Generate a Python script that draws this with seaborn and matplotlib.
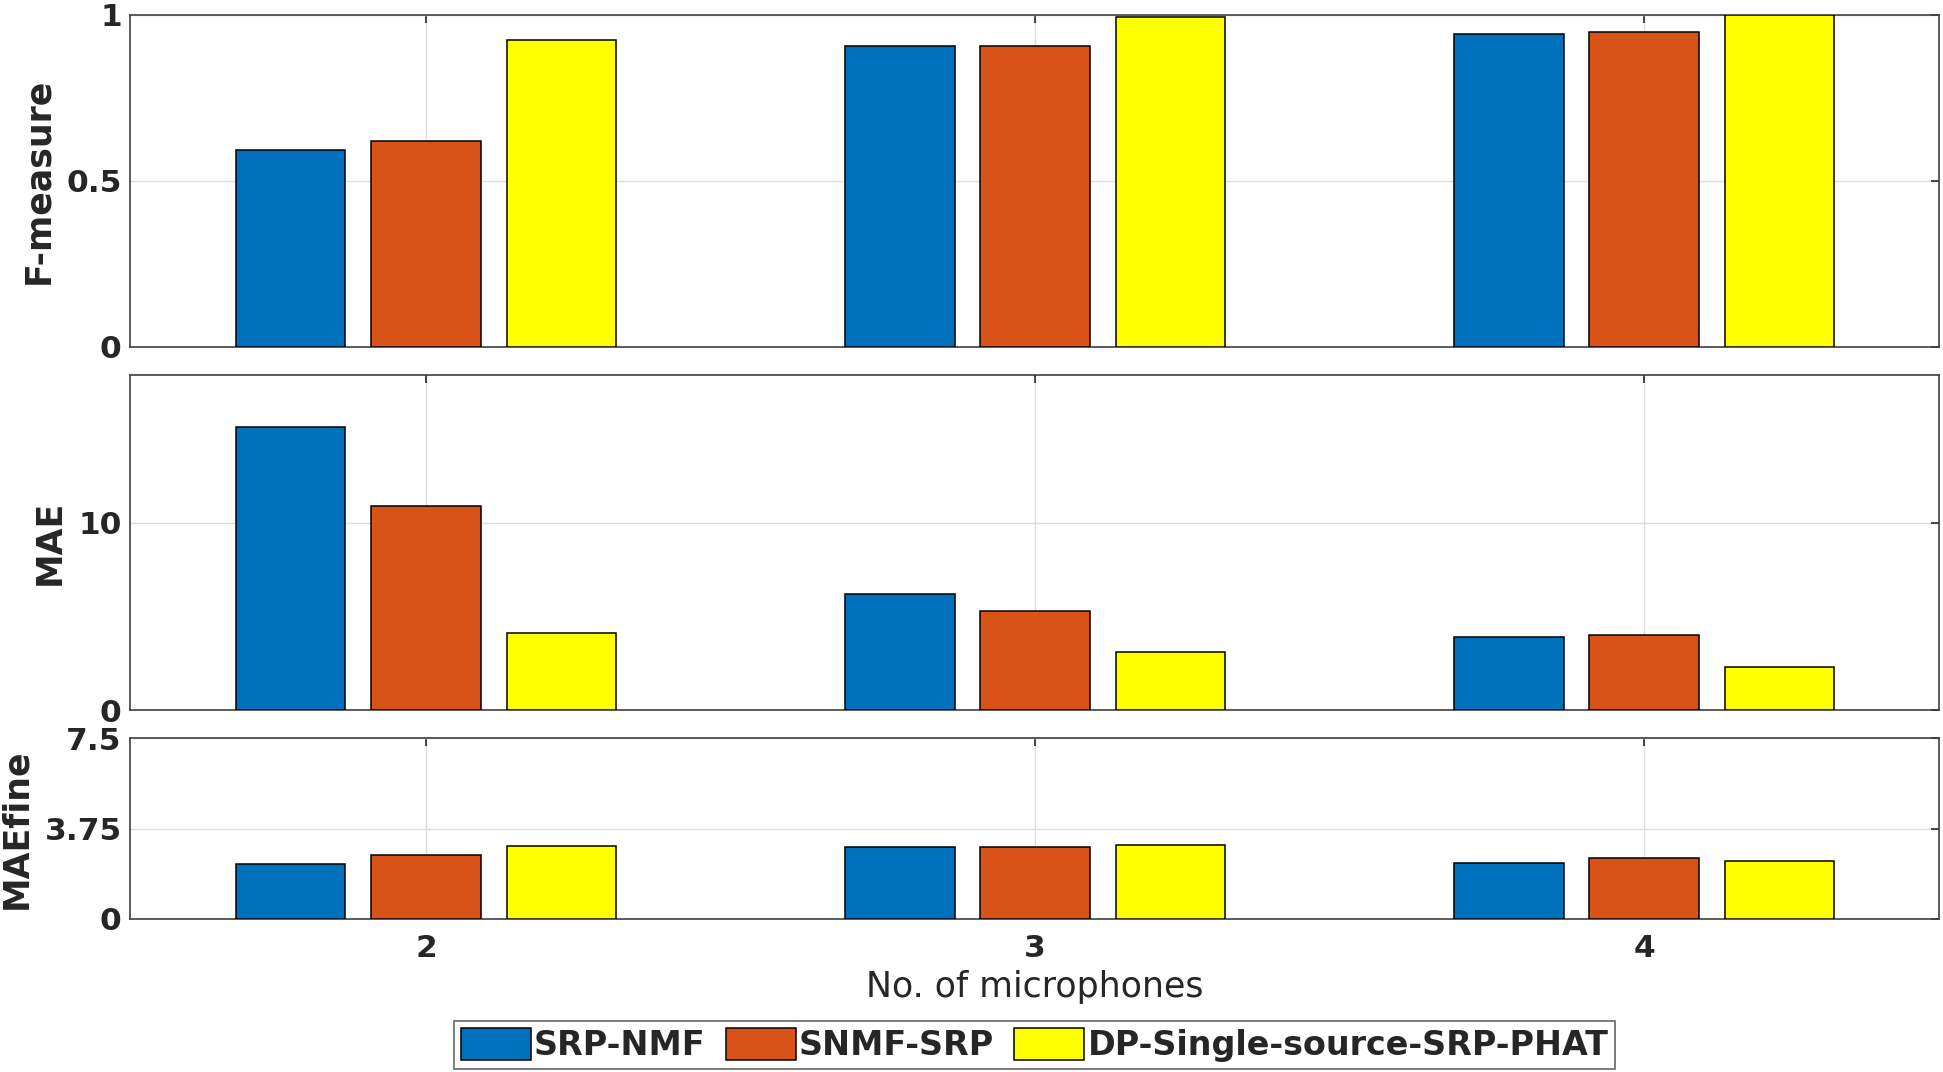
import matplotlib
matplotlib.use("Agg")
import matplotlib.pyplot as plt
import seaborn as sns
import pandas as pd

sns.set_theme(style="white")
plt.rcParams['font.family'] = ['DejaVu Sans']

mics = ["2", "3", "4"]
methods = ["SRP-NMF", "SNMF-SRP", "DP-Single-source-SRP-PHAT"]
colors = ["#0072BD", "#D95319", "#FFFF00"]

fmeasure_srpnmf = [0.593, 0.907, 0.944]
fmeasure_snmf = [0.619, 0.907, 0.948]
fmeasure_dp = [0.925, 0.993, 1.0]

mae_srpnmf = [15.1, 6.2, 3.9]
mae_snmf = [10.9, 5.3, 4.0]
mae_dp = [4.1, 3.1, 2.3]

maefine_srpnmf = [2.26, 2.98, 2.31]
maefine_snmf = [2.67, 2.98, 2.52]
maefine_dp = [3.03, 3.08, 2.41]


def long_df(a, b, c):
    rows = []
    for vals, m in zip([a, b, c], methods):
        for mic, v in zip(mics, vals):
            rows.append({"mics": mic, "method": m, "value": v})
    return pd.DataFrame(rows)


panels = [
    (long_df(fmeasure_srpnmf, fmeasure_snmf, fmeasure_dp), "F-measure", (0, 1), [0, 0.5, 1], ["0", "0.5", "1"]),
    (long_df(mae_srpnmf, mae_snmf, mae_dp), "MAE", (0, 17.9), [0, 10], ["0", "10"]),
    (long_df(maefine_srpnmf, maefine_snmf, maefine_dp), "MAEfine", (0, 7.5), [0, 3.75, 7.5], ["0", "3.75", "7.5"]),
]

W, H = 1943, 1072
fig = plt.figure(figsize=(W / 100, H / 100), dpi=100)
left = 130 / W
width = (1939 - 130) / W
boxes = [(15, 347), (375, 710), (738, 919)]

axes = []
for (df, ylabel, ylim, yt, ytl), (t, b) in zip(panels, boxes):
    ax = fig.add_axes([left, 1 - b / H, width, (b - t) / H])
    sns.barplot(data=df, x="mics", y="value", hue="method", palette=colors,
                width=0.667, gap=0.19, edgecolor="black", linewidth=1.1,
                saturation=1, ax=ax, legend=False, zorder=3)
    ax.set_xlim(-0.486, 2.484)
    ax.set_ylim(*ylim)
    ax.set_yticks(yt)
    ax.set_yticklabels(ytl, fontsize=22.5, fontweight="bold", color="#262626")
    ax.set_xticks([0, 1, 2])
    ax.set_ylabel(ylabel, fontsize=25, fontweight="bold", color="#262626", labelpad=8)
    ax.set_xlabel("")
    ax.grid(True, color="#dddddd", linewidth=1.0, zorder=0)
    ax.set_axisbelow(True)
    ax.tick_params(direction="in", length=6, width=1.2, top=True, right=True,
                   colors="#262626", pad=6)
    for s in ax.spines.values():
        s.set_visible(True)
        s.set_color("#404040")
        s.set_linewidth(1.2)
    axes.append(ax)

for ax in axes[:2]:
    ax.set_xticklabels([])
axes[2].set_xticklabels(mics, fontsize=22.5, fontweight="bold", color="#262626")
axes[2].tick_params(axis="x", pad=11)
axes[2].set_xlabel("No. of microphones", fontsize=25, color="#262626", labelpad=5)

handles = [plt.Rectangle((0, 0), 1, 1, facecolor=c, edgecolor="black", linewidth=1.1) for c in colors]
leg = fig.legend(handles, methods, loc="center", bbox_to_anchor=((130 + 1939) / 2 / W, 1 - 1045 / H),
                 ncol=3, frameon=True, fancybox=False, edgecolor="#404040",
                 prop={"weight": "bold", "size": 24}, handlelength=2.1, handleheight=1.1,
                 handletextpad=0.1, columnspacing=0.6, borderpad=0.2, borderaxespad=0)
leg.get_frame().set_linewidth(1.2)

fig.savefig("out.png", dpi=100)
